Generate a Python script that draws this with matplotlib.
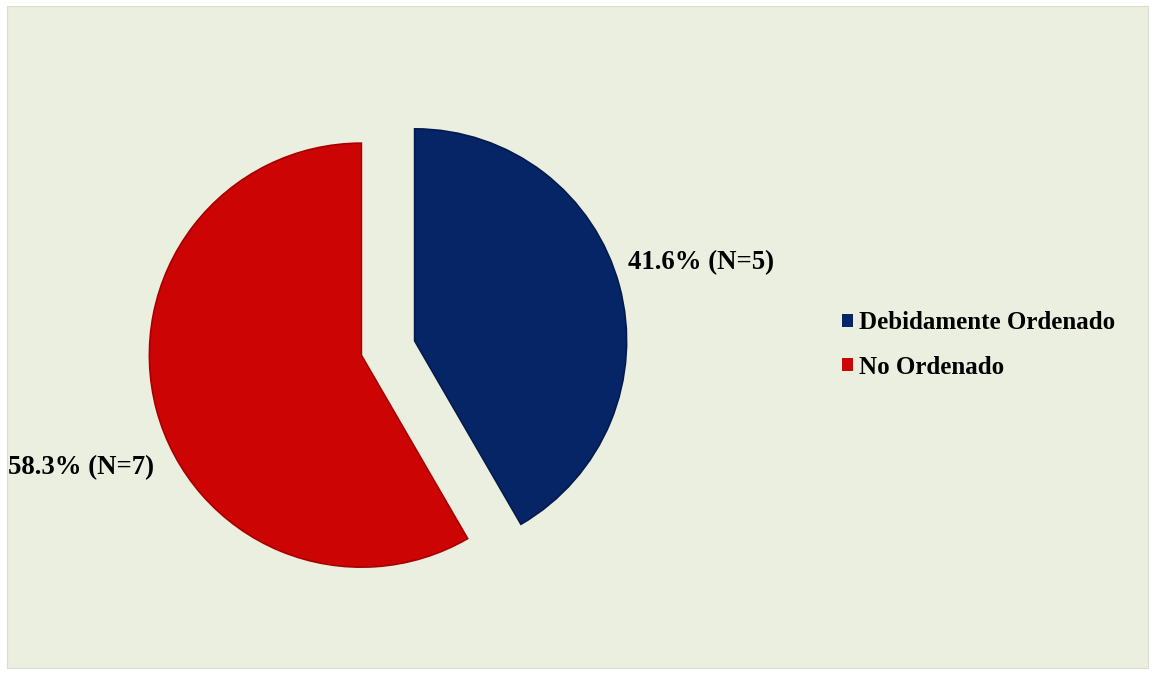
import matplotlib
matplotlib.use("Agg")
import matplotlib.pyplot as plt
from matplotlib.patches import Rectangle, Patch

categories = ["Debidamente Ordenado", "No Ordenado"]
percentages = [41.6, 58.3]
counts = [5, 7]
colors = ["#062566", "#CC0404"]

plt.rcParams['font.family'] = ['Liberation Serif', 'DejaVu Serif']

W, H = 1153, 674
fig = plt.figure(figsize=(W / 100, H / 100), dpi=100)
fig.patch.set_facecolor("white")
bg = Rectangle((7 / W, 6 / H), (1148 - 7) / W, (668 - 6) / H,
               transform=fig.transFigure, facecolor="#EBEFDF",
               edgecolor="#D9DCCF", linewidth=0.8, zorder=-5)
fig.patches.append(bg)

cx, cy, R = 388, 348, 212
half = 300
ax = fig.add_axes([(cx - half) / W, (H - cy - half) / H, 2 * half / W, 2 * half / H])
ax.set_zorder(2)
ax.axis("off")

wedges, _ = ax.pie(percentages, colors=colors, startangle=90, counterclock=False,
                   explode=[0.13, 0.13], radius=1.0,
                   wedgeprops=dict(edgecolor="none", linewidth=0))
ax.set_xlim(-half / R, half / R)
ax.set_ylim(-half / R, half / R)
ax.set_aspect("equal")
for w, ec in zip(wedges, ["#041A4C", "#A80000"]):
    w.set_edgecolor(ec)
    w.set_linewidth(1.2)

labels = [f"{p}% (N={n})" for p, n in zip(percentages, counts)]
fig.text(628 / W, 1 - 263 / H, labels[0], fontsize=19.3, fontweight="bold",
         ha="left", va="center", zorder=3)
fig.text(8 / W, 1 - 468 / H, labels[1], fontsize=19.3, fontweight="bold",
         ha="left", va="center", zorder=3)

handles = [Patch(facecolor=c, edgecolor="none") for c in colors]
leg = fig.legend(handles, categories, loc="center left",
                 bbox_to_anchor=(842 / W, 1 - 345 / H), frameon=False,
                 prop=dict(size=18, weight="bold"), handlelength=0.45, handleheight=0.45,
                 handletextpad=0.22, labelspacing=0.85, borderaxespad=0, borderpad=0)
leg.set_zorder(3)

fig.savefig("out.png", dpi=100, facecolor=fig.get_facecolor())
